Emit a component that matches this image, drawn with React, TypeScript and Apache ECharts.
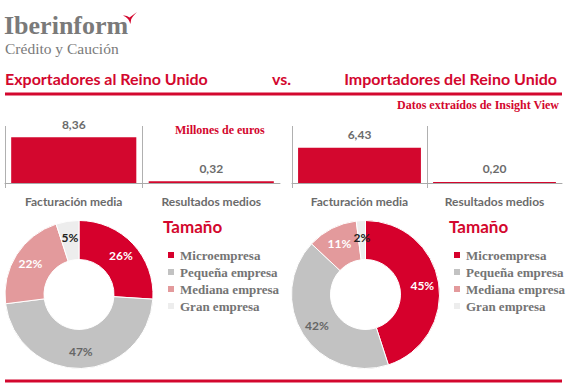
import React, { useEffect, useRef } from "react";
import * as echarts from "echarts";

const barCategories = ["Facturación media", "Resultados medios"];
const exportValues = [8.36, 0.32];
const importValues = [6.43, 0.2];

const sizeNames = ["Microempresa", "Pequeña empresa", "Mediana empresa", "Gran empresa"];
const exportShares = [26, 47, 22, 5];
const importShares = [45, 42, 11, 2];

const RED = "#d3072e";
const sliceColors = ["#d6002c", "#c2c2c2", "#e39a9c", "#ededed"];
const sliceLabelColors = ["#ffffff", "#666666", "#ffffff", "#222222"];

echarts.graphic.registerShape(
  "logo",
  echarts.graphic.extendPath(
    "M0,3.5 Q3.5,3 6.5,5.5 L14,0 Q9.5,4.5 8.2,7.2 L7.4,12 Q6.3,8.5 5,7 Q3,4.8 0,3.5 Z",
    {}
  )
);

function barSeries(values: number[], idx: number) {
  return {
    type: "bar",
    xAxisIndex: idx,
    yAxisIndex: idx,
    data: values,
    barWidth: "91%",
    itemStyle: { color: RED },
    label: {
      show: true,
      position: "top",
      distance: 7,
      color: "#6b6b6b",
      fontFamily: "Lato",
      fontWeight: "bold",
      fontSize: 12,
      formatter: (p: any) => Number(p.value).toFixed(2).replace(".", ","),
    },
  };
}

function pieSeries(shares: number[], cx: number) {
  return {
    type: "pie",
    center: [cx, 294.5],
    radius: [35, 74],
    startAngle: 90,
    clockwise: true,
    itemStyle: { borderColor: "#ffffff", borderWidth: 1 },
    label: {
      show: true,
      position: "inside",
      formatter: "{c}%",
      fontFamily: "Lato",
      fontWeight: "bold",
      fontSize: 12,
    },
    labelLine: { show: false },
    data: shares.map((v, i) => ({
      value: v,
      name: sizeNames[i],
      label: { color: sliceLabelColors[i] },
    })),
  };
}

function xAxis(idx: number) {
  return {
    type: "category",
    gridIndex: idx,
    data: barCategories,
    axisLine: { show: true, lineStyle: { color: "#a9a9a9", width: 1 } },
    axisTick: { show: false },
    axisLabel: {
      color: "#6b6b6b",
      fontFamily: "Lato",
      fontWeight: "bold",
      fontSize: 12,
      margin: 7,
      interval: 0,
    },
    splitLine: {
      show: true,
      interval: 0,
      showMaxLine: false,
      lineStyle: { color: ["#b0b0b0", "#b0b0b0", "rgba(0,0,0,0)"], width: 1 },
    },
  };
}

function yAxis(idx: number) {
  return { type: "value", gridIndex: idx, min: -0.9, max: 10.4, show: false };
}

function legend(left: number) {
  return {
    orient: "vertical",
    left,
    top: 246.5,
    padding: 0,
    itemGap: 0,
    itemWidth: 8,
    itemHeight: 8,
    icon: "rect",
    selectedMode: false,
    data: sizeNames,
    textStyle: {
      color: "#747474",
      fontFamily: "Liberation Serif",
      fontWeight: "bold",
      fontSize: 13,
      lineHeight: 17,
    },
  };
}

function txt(x: number, y: number, text: string, o: any) {
  return {
    type: "text",
    x,
    y,
    silent: true,
    style: { text, verticalAlign: "middle", align: "left", ...o },
  };
}

export default function App() {
  const ref = useRef<HTMLDivElement>(null);
  useEffect(() => {
    if (!ref.current) return;
    const chart = echarts.init(ref.current, null, { renderer: "svg" });
    chart.setOption({
      animation: false,
      backgroundColor: "#ffffff",
      color: sliceColors,
      grid: [
        { left: 5, top: 126, width: 275, height: 62 },
        { left: 292, top: 126, width: 270, height: 62 },
      ],
      xAxis: [xAxis(0), xAxis(1)],
      yAxis: [yAxis(0), yAxis(1)],
      legend: [legend(166), legend(452)],
      series: [
        barSeries(exportValues, 0),
        barSeries(importValues, 1),
        pieSeries(exportShares, 79),
        pieSeries(importShares, 365.5),
      ],
      graphic: [
        txt(4, 25, "Iberinform", {
          fill: "#7a7a7a",
          fontFamily: "Liberation Serif",
          fontWeight: "bold",
          fontSize: 26,
        }),
        txt(5, 48, "Crédito y Caución", {
          fill: "#7a7a7a",
          fontFamily: "Liberation Serif",
          fontSize: 15.5,
        }),
        { type: "logo", x: 123, y: 12, scaleX: 1, scaleY: 1, silent: true, style: { fill: RED } },
        txt(5, 78, "Exportadores al Reino Unido", {
          fill: RED, fontFamily: "Lato", fontWeight: "bold", fontSize: 16,
        }),
        txt(272, 78, "vs.", {
          fill: RED, fontFamily: "Lato", fontWeight: "bold", fontSize: 16,
        }),
        txt(557, 78, "Importadores del Reino Unido", {
          fill: RED, fontFamily: "Lato", fontWeight: "bold", fontSize: 16, align: "right",
        }),
        {
          type: "line",
          silent: true,
          shape: { x1: 5, y1: 94, x2: 562, y2: 94 },
          style: { stroke: RED, lineWidth: 3 },
        },
        txt(559, 105, "Datos extraídos de Insight View", {
          fill: RED, fontFamily: "Liberation Serif", fontWeight: "bold", fontSize: 12, align: "right",
        }),
        txt(175, 130, "Millones de euros", {
          fill: RED, fontFamily: "Liberation Serif", fontWeight: "bold", fontSize: 12,
        }),
        txt(163, 226, "Tamaño", {
          fill: RED, fontFamily: "Lato", fontWeight: "bold", fontSize: 17,
        }),
        txt(449, 226, "Tamaño", {
          fill: RED, fontFamily: "Lato", fontWeight: "bold", fontSize: 17,
        }),
        {
          type: "line",
          silent: true,
          shape: { x1: 5, y1: 381, x2: 562, y2: 381 },
          style: { stroke: RED, lineWidth: 3 },
        },
      ],
    });
    return () => chart.dispose();
  }, []);
  return (
    <div
      ref={ref}
      style={{ position: "absolute", left: 0, top: 0, width: 572, height: 392 }}
    />
  );
}
